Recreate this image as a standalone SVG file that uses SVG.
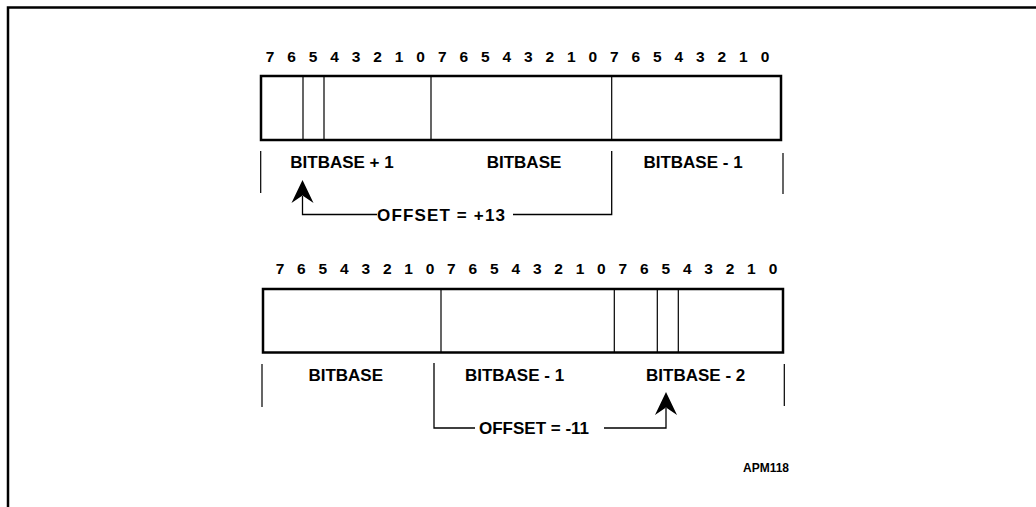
<svg xmlns="http://www.w3.org/2000/svg" width="1036" height="507" viewBox="0 0 1036 507">
<style>
.frame{fill:none;stroke:#000;stroke-width:2.5}
.box{fill:#fff;stroke:#000;stroke-width:2.5}
.div{stroke:#000;stroke-width:1.2;fill:none}
.tick{stroke:#000;stroke-width:1.2;fill:none}
.conn{stroke:#000;stroke-width:1.3;fill:none}
.head{fill:#000;stroke:none}
text{font-family:"Liberation Sans",Arial,sans-serif;font-weight:bold;fill:#000}
.bits{font-size:15.5px;text-anchor:middle}
.lbl{font-size:17px;text-anchor:middle}
.off{font-size:17px}
.ref{font-size:12px}
</style>
<rect width="1036" height="507" fill="#fff"/>
<path class="frame" d="M8,507 V7.5 H1036"/>

<g id="register-top">
<text class="bits" y="61.5" x="270 291.5 313 334.6 356.1 377.6 399.1 420.6 442.2 463.7 485.2 506.7 528.2 549.8 571.3 592.8 614.3 635.8 657.4 678.9 700.4 721.9 743.4 765">765432107654321076543210</text>
<rect class="box" x="261" y="76" width="520" height="64"/>
<path class="div" d="M303,76V140M324,76V140M431,76V140M611.7,76V140"/>
</g>
<g id="labels-top">
<text class="lbl" x="342" y="168">BITBASE + 1</text>
<text class="lbl" x="524" y="168">BITBASE</text>
<text class="lbl" x="693" y="168">BITBASE - 1</text>
<path class="tick" d="M260.7,151V193M783,153V194"/>
</g>

<g id="register-bottom">
<text class="bits" y="274" x="280 301.4 322.9 344.3 365.7 387.2 408.6 430 451.4 472.9 494.3 515.7 537.2 558.6 580 601.4 622.9 644.3 665.7 687.2 708.6 730 751.4 773">765432107654321076543210</text>
<rect class="box" x="263" y="289" width="520" height="63.5"/>
<path class="div" d="M441,289V352.5M614.3,289V352.5M657.3,289V352.5M678.3,289V352.5"/>
</g>
<g id="labels-bottom">
<text class="lbl" x="345.7" y="380.7">BITBASE</text>
<text class="lbl" x="514.5" y="380.7">BITBASE - 1</text>
<text class="lbl" x="695.7" y="380.7">BITBASE - 2</text>
<path class="tick" d="M262,364V407M784.3,364V406"/>
</g>

<g id="connectors">
<path class="conn" d="M611.7,151V214.5H513"/>
<path class="conn" d="M377,214.5H302.5V196"/>
<path class="head" d="M302.5,180L291.5,203L302.5,195.5L313.5,203Z"/>
<text class="off" x="377" y="221" textLength="128" lengthAdjust="spacing">OFFSET = +13</text>

<path class="conn" d="M434,363V428H475"/>
<path class="conn" d="M604,428H666V408"/>
<path class="head" d="M666,392L655,415L666,407.5L677,415Z"/>
<text class="off" x="479" y="434">OFFSET = -11</text>
</g>

<g id="ref">
<text class="ref" x="743" y="472">APM118</text>
</g>
</svg>
